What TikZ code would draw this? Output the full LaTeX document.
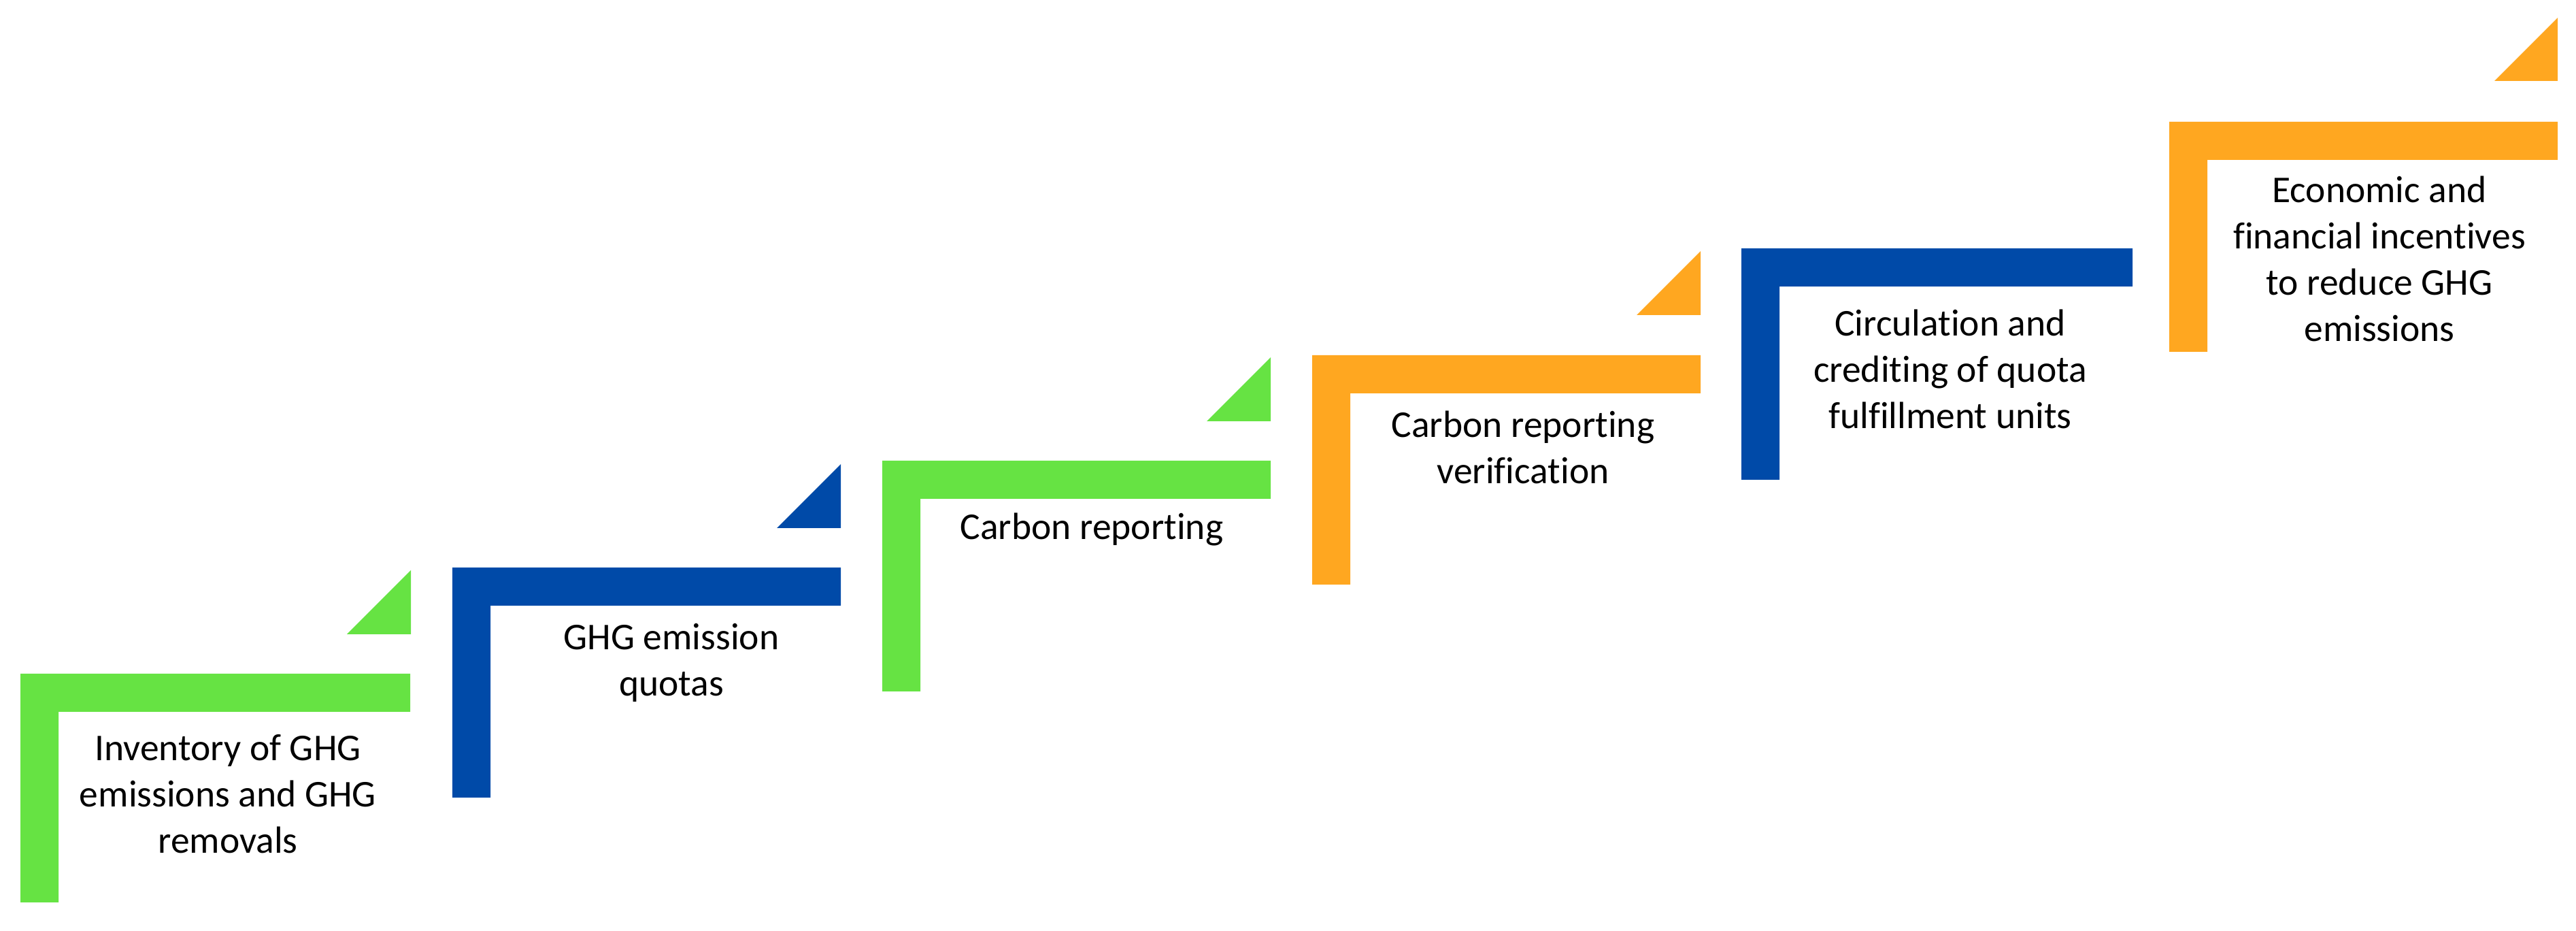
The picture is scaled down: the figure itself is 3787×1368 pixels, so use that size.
\documentclass[tikz,border=0pt]{standalone}
\usepackage{fontspec}
\setmainfont{Carlito}[Ligatures={NoCommon}]
\definecolor{sgreen}{RGB}{102,227,67}
\definecolor{sblue}{RGB}{0,74,168}
\definecolor{sorange}{RGB}{255,167,32}
\begin{document}
\begin{tikzpicture}[x=0.01cm,y=-0.01cm,
  lbl/.style={align=center,anchor=base,inner sep=0pt,
    font=\fontsize{15.8pt}{19.4pt}\selectfont,text=black}]
\useasboundingbox[fill=white] (0,0) rectangle (3787,1368);
% step shapes: L-shaped brackets
\newcommand\lstep[6]{% color, left, top, right, bottom, thickness
  \fill[#1] (#2,#3) -- (#4,#3) -- (#4,#3+#6) -- (#2+#6,#3+#6) -- (#2+#6,#5) -- (#2,#5) -- cycle;}
\newcommand\ltri[4]{% color, right, bottom, size
  \fill[#1] (#2,#3) -- (#2,#3-#4) -- (#2-#4,#3) -- cycle;}
% 1
\lstep{sgreen}{30}{990}{603}{1326}{56}
\ltri{sgreen}{604}{932}{94}
% 2
\lstep{sblue}{665}{834}{1236}{1172}{56}
\ltri{sblue}{1236}{776}{94}
% 3
\lstep{sgreen}{1297}{677}{1868}{1016}{56}
\ltri{sgreen}{1868}{619}{94}
% 4
\lstep{sorange}{1929}{522}{2500}{859}{56}
\ltri{sorange}{2500}{463}{94}
% 5
\lstep{sblue}{2560}{365}{3135}{705}{56}
% 6
\lstep{sorange}{3189}{179}{3760}{517}{56}
\ltri{sorange}{3760}{119}{93}
% labels (anchored at the baseline of the last line)
\node[lbl] (t1) at (335,1254) {Inventory of GHG\\emissions and GHG\\removals};
\node[lbl] (t2) at (987,1023) {GHG emission\\quotas};
\node[lbl] (t3) at (1605,793) {Carbon reporting};
\node[lbl] (t4) at (2239,711) {Carbon reporting\\verification};
\node[lbl] (t5) at (2867,630) {Circulation and\\crediting of quota\\fulfillment units};
\node[lbl] (t6) at (3498,502) {Economic and\\financial incentives\\to reduce GHG\\emissions};
\end{tikzpicture}
\end{document}
